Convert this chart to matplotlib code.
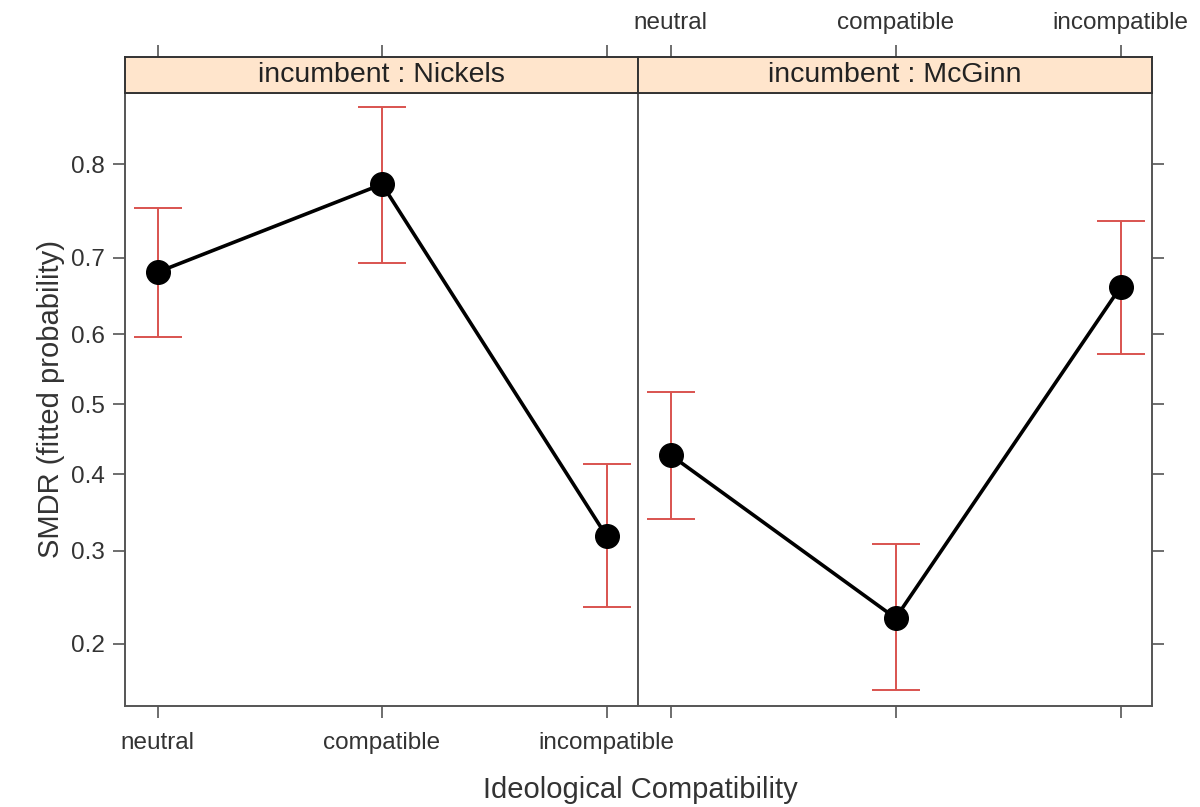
import numpy as np
import matplotlib.pyplot as plt
from matplotlib.ticker import NullLocator, NullFormatter

plt.rcParams['font.family'] = ['Liberation Sans', 'DejaVu Sans']

categories = ['neutral', 'compatible', 'incompatible']
panels = ['incumbent : Nickels', 'incumbent : McGinn']

# fitted probabilities and confidence limits
fit_nickels = [0.682, 0.781, 0.318]
lower_nickels = [0.596, 0.694, 0.236]
upper_nickels = [0.757, 0.848, 0.414]

fit_mcginn = [0.427, 0.225, 0.663]
lower_mcginn = [0.340, 0.161, 0.572]
upper_mcginn = [0.517, 0.308, 0.743]

yticks = [0.2, 0.3, 0.4, 0.5, 0.6, 0.7, 0.8]

series = [(fit_nickels, lower_nickels, upper_nickels),
          (fit_mcginn, lower_mcginn, upper_mcginn)]

W, H = 1200, 807
fig = plt.figure(figsize=(W / 100, H / 100), dpi=100)

edge = '#555555'
tick_kw = dict(direction='out', length=8.5, width=1.2, color=edge,
               labelcolor='#333333', labelsize=17.5)

panel_x = [(125, 638), (638, 1152)]
top, bottom, strip_top = 93, 706, 57

for i, (x0, x1) in enumerate(panel_x):
    ax = fig.add_axes([x0 / W, 1 - bottom / H, (x1 - x0) / W, (bottom - top) / H])
    st = fig.add_axes([x0 / W, 1 - top / H, (x1 - x0) / W, (top - strip_top) / H],
                      sharex=ax)

    fit, lo, hi = series[i]
    x = np.arange(1, len(categories) + 1)
    ax.plot(x, fit, color='black', lw=2.6, zorder=2)
    ax.errorbar(x, fit, yerr=[np.array(fit) - np.array(lo), np.array(hi) - np.array(fit)],
                fmt='none', ecolor='#d9534f', elinewidth=1.4, capsize=17,
                capthick=1.4, zorder=3)
    ax.plot(x, fit, 'o', color='black', ms=17, zorder=4)

    ax.set_yscale('logit')
    ax.set_ylim(0.1487, 0.858)
    ax.set_xlim(0.855, 3.14)
    ax.set_yticks(yticks)
    ax.set_yticklabels([f'{v:.1f}' for v in yticks])
    ax.yaxis.set_minor_locator(NullLocator())
    ax.yaxis.set_minor_formatter(NullFormatter())
    ax.set_xticks(x)
    ax.set_xticklabels(categories)
    ax.tick_params(**tick_kw, pad=10)

    if i == 0:
        ax.tick_params(axis='y', left=True, right=False, labelleft=True, pad=6)
        ax.set_ylabel('SMDR (fitted probability)', fontsize=21, color='#333333',
                      labelpad=4)
    else:
        ax.tick_params(axis='x', labelbottom=False)
        ax.tick_params(axis='y', left=False, labelleft=False, right=True)

    for s in ax.spines.values():
        s.set_color(edge)
        s.set_linewidth(1.4)

    st.set_facecolor('#ffe5cc')
    st.set_yticks([])
    st.tick_params(axis='x', bottom=False, labelbottom=False, top=True,
                   labeltop=(i == 1), **tick_kw, pad=8)
    for s in st.spines.values():
        s.set_color('#333333')
        s.set_linewidth(1.4)
    st.text(0.5, 0.5, panels[i], transform=st.transAxes, ha='center', va='center',
            fontsize=20.5, color='#222222')

fig.text(640 / W, 1 - 790 / H, 'Ideological Compatibility', ha='center', va='center',
         fontsize=21, color='#333333')

fig.savefig('out.png', dpi=100, facecolor='white')
